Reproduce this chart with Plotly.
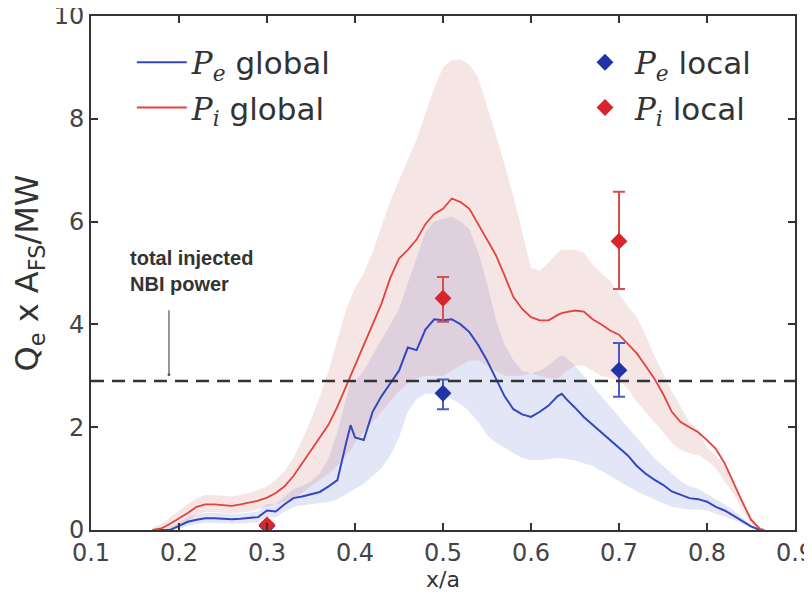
import plotly.graph_objects as go

# ---------------- data ----------------
x_grid = [0.17, 0.18, 0.19, 0.20, 0.21, 0.22, 0.23, 0.24, 0.25, 0.26, 0.27, 0.28, 0.29,
          0.30, 0.31, 0.32, 0.33, 0.34, 0.35, 0.36, 0.37, 0.38, 0.39, 0.395, 0.40, 0.41,
          0.42, 0.43, 0.44, 0.45, 0.46, 0.47, 0.48, 0.49, 0.50, 0.51, 0.52, 0.53, 0.54,
          0.55, 0.56, 0.57, 0.58, 0.59, 0.60, 0.61, 0.62, 0.63, 0.635, 0.64, 0.65, 0.66,
          0.67, 0.68, 0.69, 0.70, 0.71, 0.72, 0.73, 0.74, 0.75, 0.76, 0.77, 0.78, 0.79,
          0.80, 0.81, 0.82, 0.83, 0.84, 0.85, 0.86, 0.865]

pi_global = [0.0, 0.03, 0.12, 0.22, 0.33, 0.45, 0.50, 0.50, 0.48, 0.47, 0.50, 0.53, 0.57,
             0.63, 0.72, 0.85, 1.05, 1.30, 1.55, 1.78, 2.05, 2.40, 2.80, 3.00, 3.20, 3.60,
             4.00, 4.40, 4.90, 5.28, 5.45, 5.65, 5.95, 6.15, 6.25, 6.45, 6.38, 6.25, 5.95,
             5.64, 5.35, 4.95, 4.53, 4.30, 4.14, 4.08, 4.08, 4.18, 4.22, 4.24, 4.27, 4.25,
             4.10, 4.00, 3.88, 3.80, 3.62, 3.44, 3.20, 2.95, 2.65, 2.30, 2.10, 2.00, 1.90,
             1.75, 1.58, 1.30, 0.91, 0.55, 0.20, 0.02, 0.0]

pi_upper = [0.05, 0.12, 0.25, 0.38, 0.50, 0.62, 0.68, 0.68, 0.66, 0.65, 0.68, 0.72, 0.78,
            0.85, 0.98, 1.15, 1.40, 1.75, 2.15, 2.60, 3.10, 3.70, 4.30, 4.50, 4.70, 5.00,
            5.40, 5.90, 6.40, 6.80, 7.20, 7.60, 8.10, 8.60, 9.00, 9.15, 9.15, 9.05, 8.80,
            8.25, 7.70, 7.10, 6.50, 5.80, 5.10, 5.05, 5.20, 5.40, 5.45, 5.45, 5.45, 5.40,
            5.15, 5.00, 4.85, 4.60, 4.35, 4.15, 3.80, 3.40, 3.05, 2.70, 2.40, 2.10, 1.95,
            1.60, 1.45, 1.25, 0.95, 0.60, 0.25, 0.05, 0.0]

pi_lower = [0.0, 0.0, 0.02, 0.08, 0.18, 0.30, 0.35, 0.35, 0.33, 0.32, 0.34, 0.36, 0.40,
            0.45, 0.50, 0.55, 0.62, 0.72, 0.85, 0.98, 1.10, 1.25, 1.45, 1.55, 1.70, 1.90,
            2.10, 2.30, 2.50, 2.70, 2.85, 2.95, 3.00, 3.00, 3.00, 3.10, 3.20, 3.30, 3.30,
            3.20, 3.10, 3.00, 3.00, 3.00, 3.05, 3.00, 2.95, 2.95, 3.00, 3.10, 3.20, 3.20,
            3.10, 3.00, 2.95, 2.90, 2.75, 2.50, 2.30, 2.10, 1.90, 1.70, 1.55, 1.50, 1.45,
            1.35, 1.20, 0.95, 0.70, 0.40, 0.12, 0.0, 0.0]

pe_global = [0.0, 0.0, 0.0, 0.08, 0.16, 0.20, 0.23, 0.23, 0.22, 0.21, 0.22, 0.24, 0.25,
             0.38, 0.36, 0.50, 0.62, 0.65, 0.70, 0.74, 0.85, 0.97, 1.70, 2.04, 1.80, 1.75,
             2.30, 2.60, 2.85, 3.10, 3.55, 3.50, 3.90, 4.10, 4.08, 4.10, 4.00, 3.85, 3.60,
             3.30, 2.95, 2.60, 2.35, 2.25, 2.20, 2.30, 2.42, 2.60, 2.65, 2.55, 2.38, 2.20,
             2.05, 1.90, 1.75, 1.60, 1.45, 1.25, 1.10, 0.98, 0.88, 0.75, 0.68, 0.62, 0.60,
             0.55, 0.45, 0.38, 0.28, 0.18, 0.07, 0.0, 0.0]

pe_upper = [0.0, 0.0, 0.05, 0.15, 0.25, 0.30, 0.33, 0.33, 0.32, 0.31, 0.32, 0.34, 0.36,
            0.50, 0.50, 0.65, 0.80, 0.85, 0.95, 1.10, 1.40, 1.90, 2.60, 2.90, 2.90, 3.10,
            3.40, 3.70, 4.00, 4.30, 4.80, 5.30, 5.80, 6.00, 6.05, 6.10, 6.00, 5.85, 5.40,
            4.80, 4.10, 3.60, 3.30, 3.10, 3.05, 3.10, 3.20, 3.35, 3.40, 3.35, 3.20, 3.00,
            2.80, 2.60, 2.40, 2.20, 2.00, 1.80, 1.60, 1.40, 1.25, 1.10, 0.95, 0.85, 0.80,
            0.70, 0.60, 0.50, 0.38, 0.25, 0.10, 0.02, 0.0]

pe_lower = [0.0, 0.0, 0.0, 0.02, 0.08, 0.12, 0.14, 0.14, 0.13, 0.12, 0.13, 0.14, 0.15,
            0.25, 0.25, 0.35, 0.45, 0.48, 0.50, 0.52, 0.55, 0.60, 0.70, 0.75, 0.80, 0.90,
            1.05, 1.20, 1.45, 1.80, 2.30, 2.55, 2.65, 2.65, 2.60, 2.55, 2.45, 2.30, 2.10,
            1.85, 1.70, 1.60, 1.50, 1.40, 1.36, 1.36, 1.38, 1.40, 1.40, 1.38, 1.35, 1.30,
            1.25, 1.15, 1.05, 0.95, 0.85, 0.75, 0.68, 0.60, 0.52, 0.45, 0.42, 0.40, 0.40,
            0.38, 0.32, 0.26, 0.20, 0.12, 0.04, 0.0, 0.0]

# local (error-bar) measurements
local_x = [0.3, 0.5, 0.7]
pe_local = [0.08, 2.66, 3.11]
pe_local_plus = [0.04, 0.27, 0.53]
pe_local_minus = [0.04, 0.31, 0.52]
pi_local = [0.10, 4.51, 5.62]
pi_local_plus = [0.04, 0.41, 0.96]
pi_local_minus = [0.04, 0.46, 0.93]

nbi_power = 2.9

x_ticks = [0.1, 0.2, 0.3, 0.4, 0.5, 0.6, 0.7, 0.8, 0.9]
x_tick_labels = ["0.1", "0.2", "0.3", "0.4", "0.5", "0.6", "0.7", "0.8", "0.9"]
y_ticks = [0, 2, 4, 6, 8, 10]
y_tick_labels = ["0", "2", "4", "6", "8", "10"]

# ---------------- styles ----------------
BLUE = "#3446c0"
RED = "#e2433c"
BLUE_FILL = "rgba(70,90,200,0.15)"
RED_FILL = "rgba(205,110,110,0.18)"
BLUE_MK = "#2233a8"
RED_MK = "#d8242a"
BLUE_EB = "#4a5cc4"
RED_EB = "#d4504c"
AX = "#333333"

fig = go.Figure()

# bands
fig.add_trace(go.Scatter(x=x_grid + x_grid[::-1], y=pe_upper + pe_lower[::-1],
                         fill="toself", fillcolor=BLUE_FILL, line=dict(width=0),
                         mode="lines", showlegend=False, hoverinfo="skip"))
fig.add_trace(go.Scatter(x=x_grid + x_grid[::-1], y=pi_upper + pi_lower[::-1],
                         fill="toself", fillcolor=RED_FILL, line=dict(width=0),
                         mode="lines", showlegend=False, hoverinfo="skip"))

PE = "<span style='font-family:DejaVu Serif'><i>P<sub>e</sub></i></span>"
PI = "<span style='font-family:DejaVu Serif'><i>P<sub>i</sub></i></span>"

# global lines
fig.add_trace(go.Scatter(x=x_grid, y=pe_global, mode="lines",
                         line=dict(color=BLUE, width=2),
                         name=PE + " global", legend="legend", legendgroup="a"))
fig.add_trace(go.Scatter(x=x_grid, y=pi_global, mode="lines",
                         line=dict(color=RED, width=1.8),
                         name=PI + " global", legend="legend", legendgroup="b"))

# NBI power
fig.add_hline(y=nbi_power, line=dict(color=AX, width=2.5, dash="13px,8px"))

# local points
fig.add_trace(go.Scatter(x=local_x, y=pe_local, mode="markers",
                         marker=dict(symbol="diamond", size=13, color=BLUE_MK),
                         error_y=dict(type="data", symmetric=False, array=pe_local_plus,
                                      arrayminus=pe_local_minus, color=BLUE_EB,
                                      thickness=2, width=6),
                         name=PE + " local", legend="legend2", legendgroup="c"))
fig.add_trace(go.Scatter(x=local_x, y=pi_local, mode="markers",
                         marker=dict(symbol="diamond", size=13, color=RED_MK),
                         error_y=dict(type="data", symmetric=False, array=pi_local_plus,
                                      arrayminus=pi_local_minus, color=RED_EB,
                                      thickness=2, width=6),
                         name=PI + " local", legend="legend2", legendgroup="d"))

# annotation
fig.add_annotation(x=0.142, y=5.04, xref="x", yref="y", xanchor="left", yanchor="middle",
                   align="left", showarrow=False,
                   text="<b>total injected<br>NBI power</b>",
                   font=dict(family="Liberation Sans, Arial", size=20, color="#333333"))
fig.add_annotation(x=0.1886, y=3.02, xref="x", yref="y", ax=0, ay=-66, text="",
                   showarrow=True, arrowhead=6, arrowsize=0.6, arrowwidth=1.2,
                   arrowcolor="#555555")

axis_common = dict(showline=True, linecolor=AX, linewidth=2, mirror="ticks",
                   ticks="inside", ticklen=7, tickwidth=1.5, tickcolor=AX,
                   showgrid=False, zeroline=False, automargin=False,
                   ticklabeloverflow="allow",
                   tickfont=dict(family="DejaVu Sans", size=24, color="#444444"))

# the page body adds an 8px offset, margins compensate for it
fig.update_layout(
    width=812, height=594,
    margin=dict(l=83, r=25, t=8, b=72),
    paper_bgcolor="white", plot_bgcolor="white",
    font=dict(family="DejaVu Sans", color="#333333"),
    xaxis=dict(range=[0.1, 0.9], tickvals=x_ticks, ticktext=x_tick_labels,
               title=dict(text="x/a", font=dict(size=22, color="#333333"), standoff=2),
               **axis_common),
    yaxis=dict(range=[0, 10], tickvals=y_ticks, ticktext=y_tick_labels,
               title=dict(text="Q<sub>e</sub> x A<sub>FS</sub>/MW",
                          font=dict(size=32, color="#333333"), standoff=6),
               **axis_common),
    legend=dict(x=0.058, y=0.962, xanchor="left", yanchor="top",
                bgcolor="rgba(0,0,0,0)", font=dict(size=31, color="#333333"),
                tracegroupgap=2, itemwidth=50),
    legend2=dict(x=0.6875, y=0.962, xanchor="left", yanchor="top",
                 bgcolor="rgba(0,0,0,0)", font=dict(size=31, color="#333333"),
                 tracegroupgap=2, itemwidth=50),
    showlegend=True,
)

fig.write_html("out.html")
